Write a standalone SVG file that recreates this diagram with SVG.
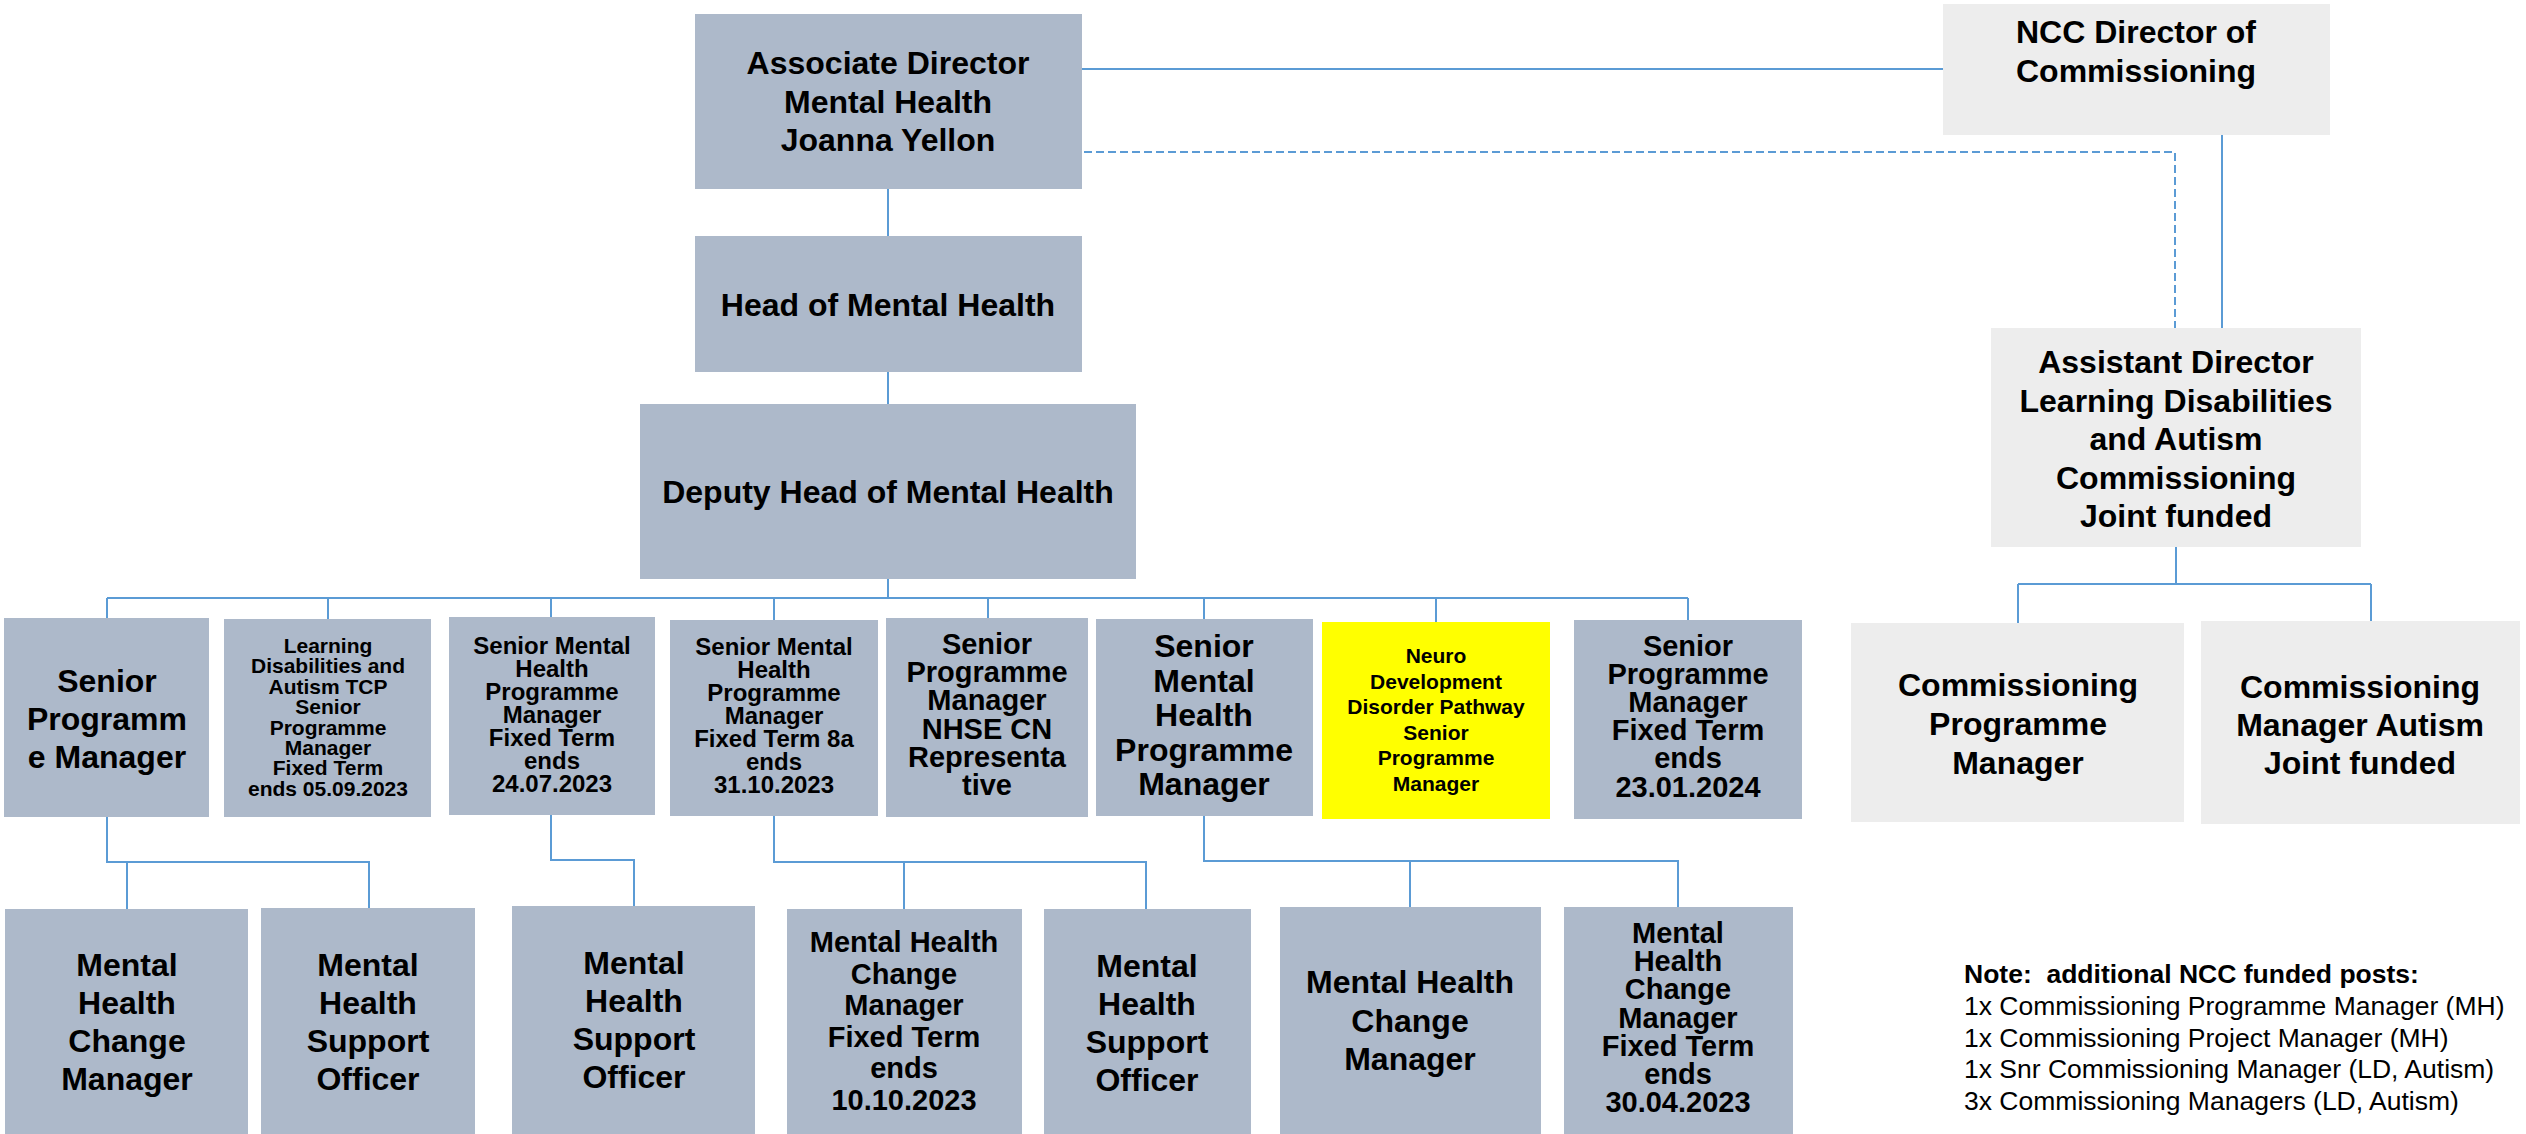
<svg xmlns="http://www.w3.org/2000/svg" width="2526" height="1134" viewBox="0 0 2526 1134">
<style>
.n{fill:#ADB9CA}
.g{fill:#EDEDED}
.y{fill:#FFFF00}
text{font-family:"Liberation Sans",Arial,sans-serif;font-weight:bold;fill:#000;text-anchor:middle}
.f32{font-size:32px}.f29{font-size:29px}.f24{font-size:24px}.f21{font-size:21px}
.c{fill:none;stroke:#5B9BD5;stroke-width:2}
.d{fill:none;stroke:#5B9BD5;stroke-width:2;stroke-dasharray:8 4}
.note{text-anchor:start;font-size:26.5px}
</style>
<rect width="2526" height="1134" fill="#fff"/>
<g id="connectors">
<path class="c" d="M888 189V236M1082 69H1943M2222 135V328M888 372V404"/>
<path class="d" d="M1084 152H2175V328"/>
<path class="c" d="M888 579V598M107 598H1688M107 598V618M328 598V619M551 598V617M774 598V620M988 598V618M1204 598V619M1436 598V622M1688 598V620"/>
<path class="c" d="M2176 547V584M2018 584H2371M2018 584V623M2371 584V621"/>
<path class="c" d="M107 817V862H369V908M127 862V909"/>
<path class="c" d="M551 815V860H634V906"/>
<path class="c" d="M774 816V862H1146V909M904 862V909"/>
<path class="c" d="M1204 816V861H1678V907M1410 861V907"/>
</g>
<g id="assoc"><rect class="n" x="695" y="14" width="387" height="175"/>
<text class="f32" x="888"><tspan x="888" y="74">Associate Director</tspan><tspan x="888" y="112.5">Mental Health</tspan><tspan x="888" y="151">Joanna Yellon</tspan></text></g>
<g id="ncc"><rect class="g" x="1943" y="4" width="387" height="131"/>
<text class="f32"><tspan x="2136" y="43">NCC Director of</tspan><tspan x="2136" y="82">Commissioning</tspan></text></g>
<g id="head"><rect class="n" x="695" y="236" width="387" height="136"/>
<text class="f32" x="888" y="316">Head of Mental Health</text></g>
<g id="deputy"><rect class="n" x="640" y="404" width="496" height="175"/>
<text class="f32" x="888" y="503">Deputy Head of Mental Health</text></g>
<g id="asst"><rect class="g" x="1991" y="328" width="370" height="219"/>
<text class="f32"><tspan x="2176" y="373">Assistant Director</tspan><tspan x="2176" y="411.5">Learning Disabilities</tspan><tspan x="2176" y="450">and Autism</tspan><tspan x="2176" y="488.5">Commissioning</tspan><tspan x="2176" y="527">Joint funded</tspan></text></g>
<g id="cpm"><rect class="g" x="1851" y="623" width="333" height="199"/>
<text class="f32"><tspan x="2018" y="696">Commissioning</tspan><tspan x="2018" y="735">Programme</tspan><tspan x="2018" y="774">Manager</tspan></text></g>
<g id="cma"><rect class="g" x="2201" y="621" width="319" height="203"/>
<text class="f32"><tspan x="2360" y="698">Commissioning</tspan><tspan x="2360" y="736">Manager Autism</tspan><tspan x="2360" y="774">Joint funded</tspan></text></g>
<g id="b1"><rect class="n" x="4" y="618" width="205" height="199"/>
<text class="f32"><tspan x="107" y="692">Senior</tspan><tspan x="107" y="730">Programm</tspan><tspan x="107" y="768">e Manager</tspan></text></g>
<g id="b2"><rect class="n" x="224" y="619" width="207" height="198"/>
<text class="f21"><tspan x="328" y="652.5">Learning</tspan><tspan x="328" y="673">Disabilities and</tspan><tspan x="328" y="693.5">Autism TCP</tspan><tspan x="328" y="714">Senior</tspan><tspan x="328" y="734.5">Programme</tspan><tspan x="328" y="755">Manager</tspan><tspan x="328" y="775">Fixed Term</tspan><tspan x="328" y="795.5">ends 05.09.2023</tspan></text></g>
<g id="b3"><rect class="n" x="449" y="617" width="206" height="198"/>
<text class="f24"><tspan x="552" y="653.5">Senior Mental</tspan><tspan x="552" y="676.6">Health</tspan><tspan x="552" y="699.7">Programme</tspan><tspan x="552" y="722.8">Manager</tspan><tspan x="552" y="745.9">Fixed Term</tspan><tspan x="552" y="769">ends</tspan><tspan x="552" y="792">24.07.2023</tspan></text></g>
<g id="b4"><rect class="n" x="670" y="620" width="208" height="196"/>
<text class="f24"><tspan x="774" y="655">Senior Mental</tspan><tspan x="774" y="678">Health</tspan><tspan x="774" y="701">Programme</tspan><tspan x="774" y="724">Manager</tspan><tspan x="774" y="747">Fixed Term 8a</tspan><tspan x="774" y="770">ends</tspan><tspan x="774" y="793">31.10.2023</tspan></text></g>
<g id="b5"><rect class="n" x="886" y="618" width="202" height="199"/>
<text class="f29"><tspan x="987" y="654">Senior</tspan><tspan x="987" y="682.2">Programme</tspan><tspan x="987" y="710.4">Manager</tspan><tspan x="987" y="738.6">NHSE CN</tspan><tspan x="987" y="766.8">Representa</tspan><tspan x="987" y="795">tive</tspan></text></g>
<g id="b6"><rect class="n" x="1096" y="619" width="217" height="197"/>
<text class="f32"><tspan x="1204" y="657">Senior</tspan><tspan x="1204" y="691.6">Mental</tspan><tspan x="1204" y="726.2">Health</tspan><tspan x="1204" y="760.8">Programme</tspan><tspan x="1204" y="795.4">Manager</tspan></text></g>
<g id="b7"><rect class="y" x="1322" y="622" width="228" height="197"/>
<text class="f21"><tspan x="1436" y="663">Neuro</tspan><tspan x="1436" y="688.5">Development</tspan><tspan x="1436" y="714">Disorder Pathway</tspan><tspan x="1436" y="739.5">Senior</tspan><tspan x="1436" y="765">Programme</tspan><tspan x="1436" y="790.5">Manager</tspan></text></g>
<g id="b8"><rect class="n" x="1574" y="620" width="228" height="199"/>
<text class="f29"><tspan x="1688" y="656">Senior</tspan><tspan x="1688" y="684.1">Programme</tspan><tspan x="1688" y="712.2">Manager</tspan><tspan x="1688" y="740.3">Fixed Term</tspan><tspan x="1688" y="768.4">ends</tspan><tspan x="1688" y="796.5">23.01.2024</tspan></text></g>
<g id="c1"><rect class="n" x="5" y="909" width="243" height="225"/>
<text class="f32"><tspan x="127" y="976">Mental</tspan><tspan x="127" y="1014">Health</tspan><tspan x="127" y="1052">Change</tspan><tspan x="127" y="1090">Manager</tspan></text></g>
<g id="c2"><rect class="n" x="261" y="908" width="214" height="226"/>
<text class="f32"><tspan x="368" y="976">Mental</tspan><tspan x="368" y="1014">Health</tspan><tspan x="368" y="1052">Support</tspan><tspan x="368" y="1090">Officer</tspan></text></g>
<g id="c3"><rect class="n" x="512" y="906" width="243" height="228"/>
<text class="f32"><tspan x="634" y="974">Mental</tspan><tspan x="634" y="1012">Health</tspan><tspan x="634" y="1050">Support</tspan><tspan x="634" y="1088">Officer</tspan></text></g>
<g id="c4"><rect class="n" x="787" y="909" width="235" height="225"/>
<text class="f29"><tspan x="904" y="952">Mental Health</tspan><tspan x="904" y="983.5">Change</tspan><tspan x="904" y="1015">Manager</tspan><tspan x="904" y="1046.5">Fixed Term</tspan><tspan x="904" y="1078">ends</tspan><tspan x="904" y="1109.5">10.10.2023</tspan></text></g>
<g id="c5"><rect class="n" x="1044" y="909" width="207" height="225"/>
<text class="f32"><tspan x="1147" y="977">Mental</tspan><tspan x="1147" y="1015">Health</tspan><tspan x="1147" y="1053">Support</tspan><tspan x="1147" y="1091">Officer</tspan></text></g>
<g id="c6"><rect class="n" x="1280" y="907" width="261" height="227"/>
<text class="f32"><tspan x="1410" y="993">Mental Health</tspan><tspan x="1410" y="1031.5">Change</tspan><tspan x="1410" y="1070">Manager</tspan></text></g>
<g id="c7"><rect class="n" x="1564" y="907" width="229" height="227"/>
<text class="f29"><tspan x="1678" y="943">Mental</tspan><tspan x="1678" y="971.2">Health</tspan><tspan x="1678" y="999.4">Change</tspan><tspan x="1678" y="1027.6">Manager</tspan><tspan x="1678" y="1055.8">Fixed Term</tspan><tspan x="1678" y="1084">ends</tspan><tspan x="1678" y="1112">30.04.2023</tspan></text></g>
<g id="note">
<text class="note" x="1964" y="983" xml:space="preserve">Note:  additional NCC funded posts:</text>
<text class="note" style="font-weight:normal"><tspan x="1964" y="1015">1x Commissioning Programme Manager (MH)</tspan><tspan x="1964" y="1046.7">1x Commissioning Project Manager (MH)</tspan><tspan x="1964" y="1078.4">1x Snr Commissioning Manager (LD, Autism)</tspan><tspan x="1964" y="1110">3x Commissioning Managers (LD, Autism)</tspan></text>
</g>
</svg>
